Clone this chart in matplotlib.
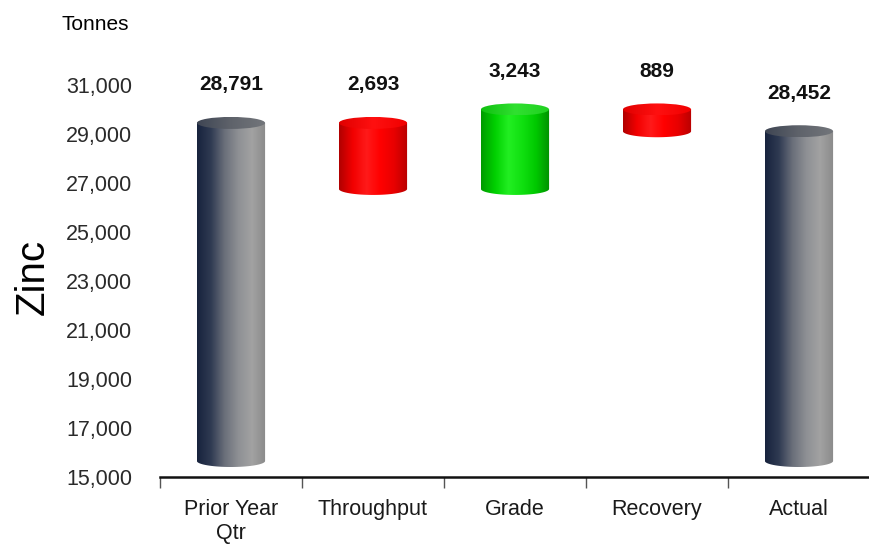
import numpy as np
import matplotlib.pyplot as plt
from matplotlib.path import Path
from matplotlib.patches import PathPatch, Ellipse
from matplotlib.colors import LinearSegmentedColormap

plt.rcParams['font.family'] = ['Liberation Sans', 'DejaVu Sans']

# Zinc production bridge, tonnes
categories = ['Prior Year\nQtr', 'Throughput', 'Grade', 'Recovery', 'Actual']
prior_year = 28791
changes = [-2693, 3243, -889]
actual = 28452
y_ticks = list(range(15000, 31001, 2000))

Y_MIN, Y_MAX = 15000, 32500

# colour ramps: body (left -> right) and top cap
styles = {
    'total': (['#17233d', '#2f3a52', '#6a6f7a', '#8e9094', '#a2a2a2', '#8a8a8a'],
              ['#3e4553', '#5f636b', '#73767b']),
    'down': (['#b00000', '#f20000', '#ff1a1a', '#ff0000', '#e80000', '#b80000'],
             ['#e00000', '#ff1010', '#f00000']),
    'up': (['#009a00', '#00d000', '#22ee22', '#10e010', '#00c800', '#009000'],
           ['#10c010', '#30e030', '#20d020']),
}


def cylinder(ax, x, y0, y1, style, width, cap_h, lift):
    body_cols, cap_cols = styles[style]
    x0, x1 = x - width / 2, x + width / 2
    b, t = y0 + lift, y1 + lift
    # body outline: straight sides, rounded bottom
    theta = np.linspace(0, np.pi, 40)
    arc_x = x + (width / 2) * np.cos(theta)
    arc_y = b - (cap_h / 2) * np.sin(theta)
    verts = [(x0, t), (x1, t)] + list(zip(arc_x, arc_y)) + [(x0, t)]
    codes = [Path.MOVETO] + [Path.LINETO] * (len(verts) - 2) + [Path.CLOSEPOLY]
    body = PathPatch(Path(verts, codes), facecolor='none', edgecolor='none')
    ax.add_patch(body)
    grad = np.linspace(0, 1, 256).reshape(1, -1)
    cmap = LinearSegmentedColormap.from_list('body', body_cols)
    im = ax.imshow(grad, cmap=cmap, aspect='auto', interpolation='bilinear',
                   extent=[x0, x1, b - cap_h, t], origin='lower', zorder=2)
    im.set_clip_path(body)
    # top cap
    cap = Ellipse((x, t), width, cap_h, facecolor='none', edgecolor='none')
    ax.add_patch(cap)
    cmap_c = LinearSegmentedColormap.from_list('cap', cap_cols)
    im2 = ax.imshow(grad, cmap=cmap_c, aspect='auto', interpolation='bilinear',
                    extent=[x0, x1, t - cap_h / 2, t + cap_h / 2], zorder=3)
    im2.set_clip_path(cap)


def main():
    fig = plt.figure(figsize=(8.7, 5.54), dpi=100)
    ax_rect = [160 / 870, 77 / 554, 710 / 870, 429 / 554]
    ax = fig.add_axes(ax_rect)

    units_per_px = (Y_MAX - Y_MIN) / (ax_rect[3] * 554)
    cap_h = 12 * units_per_px
    lift = 16 * units_per_px
    width = 0.48

    # waterfall segments
    segments = [(Y_MIN, prior_year, 'total', prior_year)]
    level = prior_year
    for c in changes:
        new = level + c
        segments.append((min(level, new), max(level, new),
                         'down' if c < 0 else 'up', abs(c)))
        level = new
    segments.append((Y_MIN, actual, 'total', actual))

    for i, (lo, hi, style, val) in enumerate(segments):
        cylinder(ax, i, lo, hi, style, width, cap_h, lift)
        ax.annotate(f'{val:,}', (i, hi + lift), xytext=(0, 38),
                    textcoords='offset pixels', ha='center', va='center',
                    fontsize=15, fontweight='bold', color='#111111')

    ax.set_xlim(-0.5, len(categories) - 0.5)
    ax.set_ylim(Y_MIN, Y_MAX)

    ax.set_yticks(y_ticks)
    ax.set_yticklabels([f'{v:,}' for v in y_ticks])
    ax.tick_params(axis='y', length=0, pad=20, labelsize=15.5, labelcolor='#2a2a2a')

    ax.set_xticks(range(len(categories)))
    ax.set_xticklabels(categories, linespacing=1.2)
    ax.set_xticks(np.arange(-0.5, len(categories)), minor=True)
    ax.tick_params(axis='x', which='major', length=0, pad=16, labelsize=15.5,
                   labelcolor='#1a1a1a')
    ax.tick_params(axis='x', which='minor', length=8, width=1, color='#555555',
                   direction='out')

    for side in ['top', 'right', 'left']:
        ax.spines[side].set_visible(False)
    ax.spines['bottom'].set_linewidth(1.8)
    ax.spines['bottom'].set_color('#111111')

    fig.text(62 / 870, 1 - 25 / 554, 'Tonnes', fontsize=15, va='center', ha='left')
    fig.text(33 / 870, 1 - 277 / 554, 'Zinc', fontsize=29, rotation=90,
             va='center', ha='center')

    fig.savefig('out.png', dpi=100)


if __name__ == '__main__':
    main()
